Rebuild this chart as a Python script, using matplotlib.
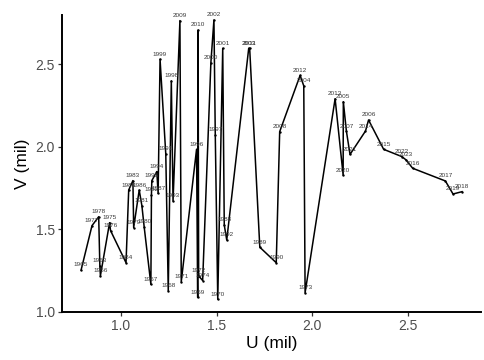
import numpy as np
import matplotlib
matplotlib.use("Agg")
import matplotlib.pyplot as plt
from matplotlib.ticker import FormatStrFormatter

years = ["1965", "1977", "1978", "1963", "1966", "1975", "1976", "1984", "1985", "1983",
         "1979", "1986", "1981", "1980", "1967", "1982", "1995", "1994", "1987", "1999",
         "1991", "1968", "1998", "1993", "2009", "1971", "1996", "1969", "2010", "1972",
         "1974", "2000", "2002", "1997", "1970", "2001", "1988", "1992", "2003", "2011",
         "1989", "1990", "2008", "2012", "2004", "1973", "2013", "2020", "2005", "2007",
         "2021", "2014", "2006", "2015", "2022", "2023", "2016", "2017", "2019", "2018"]
u_mil = [0.791, 0.848, 0.883, 0.889, 0.892, 0.940, 0.945, 1.026, 1.040, 1.062,
         1.066, 1.095, 1.109, 1.121, 1.156, 1.159, 1.161, 1.187, 1.194, 1.204,
         1.234, 1.247, 1.263, 1.272, 1.308, 1.315, 1.395, 1.401, 1.403, 1.406,
         1.427, 1.470, 1.486, 1.493, 1.506, 1.532, 1.540, 1.553, 1.668, 1.673,
         1.726, 1.812, 1.830, 1.937, 1.956, 1.963, 2.120, 2.162, 2.163, 2.179,
         2.198, 2.279, 2.295, 2.374, 2.469, 2.491, 2.526, 2.697, 2.737, 2.784]
v_mil = [1.253, 1.522, 1.576, 1.280, 1.218, 1.540, 1.492, 1.297, 1.738, 1.795,
         1.510, 1.738, 1.643, 1.514, 1.166, 1.708, 1.795, 1.850, 1.718, 2.532,
         1.957, 1.127, 2.400, 1.672, 2.766, 1.182, 1.985, 1.086, 2.709, 1.217,
         1.189, 2.511, 2.770, 2.072, 1.075, 2.598, 1.526, 1.435, 2.598, 2.597,
         1.391, 1.297, 2.092, 2.434, 2.370, 1.115, 2.292, 1.829, 2.274, 2.096,
         1.954, 2.096, 2.163, 1.985, 1.941, 1.921, 1.870, 1.793, 1.714, 1.728]
x_ticks = [1.0, 1.5, 2.0, 2.5]
y_ticks = [1.0, 1.5, 2.0, 2.5]

plt.rcParams['font.family'] = ['Liberation Sans', 'DejaVu Sans']

fig = plt.figure(figsize=(4.85, 3.6), dpi=100)
ax = fig.add_axes([62/485, 1-312/360, 1-62/485-0.008, (312-15)/360])

u = np.array(u_mil)
v = np.array(v_mil)
order = np.argsort(u, kind="stable")
ax.plot(u[order], v[order], color="black", lw=1.1, solid_joinstyle="round", zorder=2)
ax.scatter(u, v, s=3, color="black", zorder=3, linewidths=0)
for yr, xx, yy in zip(years, u, v):
    ax.annotate(yr, (xx, yy), xytext=(0, 3.6), textcoords="offset points",
                ha="center", va="center", fontsize=4.6, color="#3a3a3a", zorder=4)

ax.set_xlim(0.691, 2.884)
ax.set_ylim(0.998, 2.800)
ax.set_xticks(x_ticks)
ax.set_yticks(y_ticks)
ax.xaxis.set_major_formatter(FormatStrFormatter('%.1f'))
ax.yaxis.set_major_formatter(FormatStrFormatter('%.1f'))
for s in ["top", "right"]:
    ax.spines[s].set_visible(False)
for s in ["left", "bottom"]:
    ax.spines[s].set_linewidth(1.4)
    ax.spines[s].set_color("black")
ax.tick_params(axis="both", length=3, width=0.9, color="#333333",
               labelsize=10, labelcolor="#4d4d4d", pad=2)
ax.set_xlabel("U (mil)", fontsize=12.5, color="black", labelpad=2)
ax.set_ylabel("V (mil)", fontsize=12.5, color="black", labelpad=4)

fig.savefig("out.png", dpi=100)
